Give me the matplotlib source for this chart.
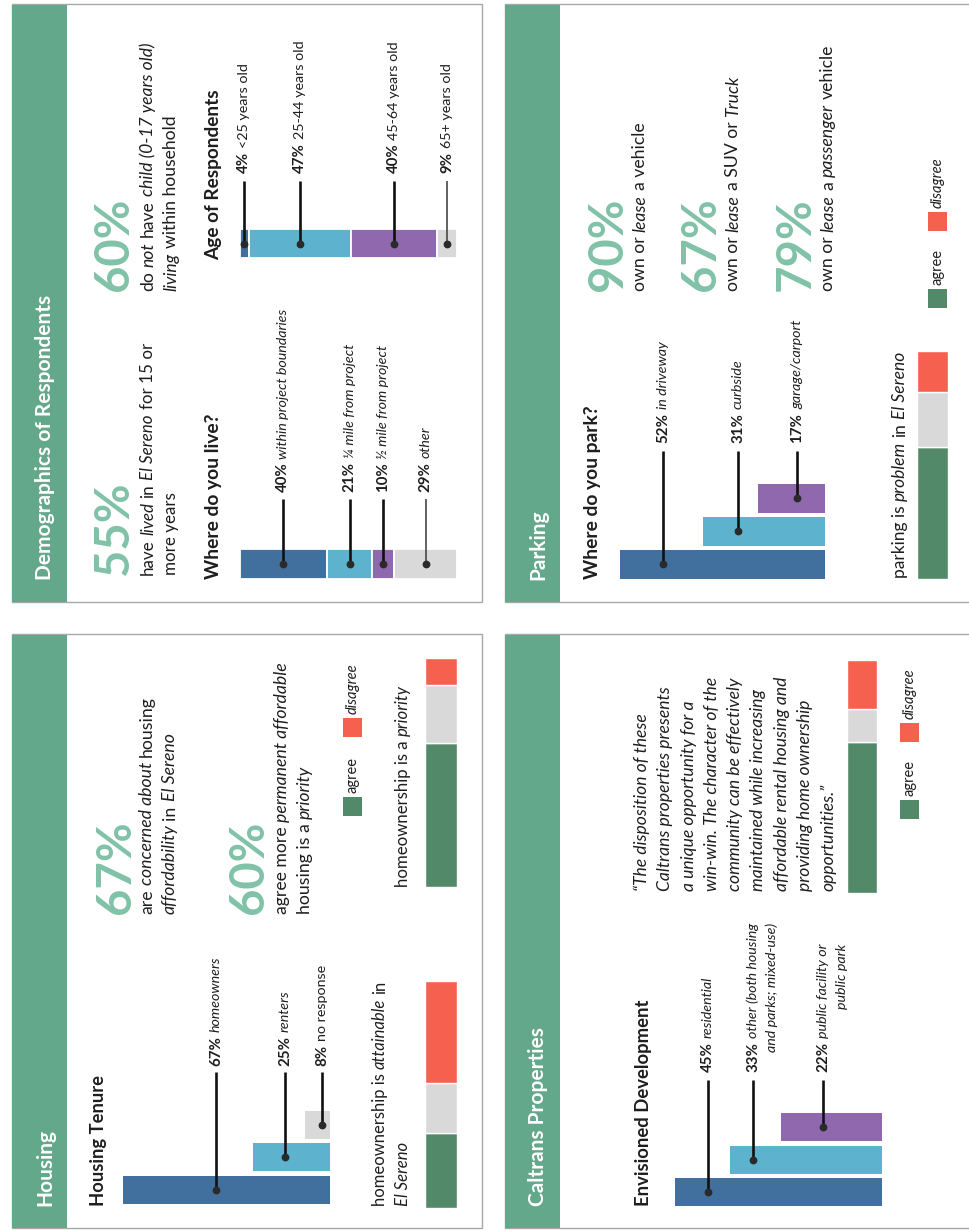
import matplotlib
matplotlib.use('Agg')
import matplotlib.pyplot as plt
from matplotlib.patches import Rectangle
import numpy as np

plt.rcParams['font.family'] = ['Lato', 'DejaVu Sans']

# ---------------- data ----------------
live_labels = ['within project boundaries', '\u00bc mile from project', '\u00bd mile from project', 'other']
live_values = [40, 21, 10, 29]
age_labels = ['<25 years old', '25-44 years old', '45-64 years old', '65+ years old']
age_values = [4, 47, 40, 9]
tenure_labels = ['homeowners', 'renters', 'no response']
tenure_values = [67, 25, 8]
park_labels = ['in driveway', 'curbside', 'garage/carport']
park_values = [52, 31, 17]
dev_labels = ['residential', 'other (both housing\nand parks; mixed-use)', 'public facility or\npublic park']
dev_values = [45, 33, 22]
likert_levels = ['agree', 'neutral', 'disagree']
attainable_values = [33, 22, 45]
priority_values = [63, 25, 12]
parking_problem_values = [58, 24, 18]
caltrans_values = [65, 14, 21]
demo_stats = [55, 60]
housing_stats = [67, 60]
vehicle_stats = [90, 67, 79]

# ---------------- style ----------------
W, H = 969, 1230
HDR = '#64a88c'
NUM = '#80c2a7'
DBLUE = '#41709e'
LBLUE = '#5db3cd'
PURPLE = '#8f68ad'
GRAY = '#d9d9d9'
AGREE = '#528a69'
DISAGREE = '#f5604f'
TXT = '#1e1e1e'
LIKERT_COLORS = [AGREE, GRAY, DISAGREE]

fig = plt.figure(figsize=(W / 100, H / 100), dpi=100)
bg = fig.add_axes([0, 0, 1, 1])
bg.set_xlim(0, W); bg.set_ylim(H, 0); bg.axis('off')
renderer = fig.canvas.get_renderer()


def fig_rect(x0, y0, x1, y1):
    return [x0 / W, 1 - y1 / H, (x1 - x0) / W, (y1 - y0) / H]


# panels
panels = [(12, 4, 482, 602, 'Demographics of Respondents'),
          (505, 4, 975, 602, 'Parking'),
          (12, 634, 482, 1228, 'Housing'),
          (505, 634, 975, 1228, 'Caltrans Properties')]
for x0, y0, x1, y1, _ in panels:
    bg.add_patch(Rectangle((x0, y0), x1 - x0, y1 - y0, fc='white', ec='#a8a8a8', lw=1.0))
    bg.add_patch(Rectangle((x0 + 0.5, y0 + 0.5), 55, y1 - y0 - 1, fc=HDR, ec='none'))


# ---------------- bar axes ----------------
def hbar_right(values, colors, right, length, vmax, bottom_center, spacing, thickness):
    n = len(values)
    yb = bottom_center + spacing / 2
    yt = yb - n * spacing
    a = fig.add_axes(fig_rect(right - length, yt, right, yb))
    a.barh(np.arange(n), values, height=thickness / spacing, color=colors)
    a.set_xlim(vmax, 0); a.set_ylim(-0.5, n - 0.5); a.axis('off')
    return a


def hstack(values, colors, x0, x1, y0, y1):
    a = fig.add_axes(fig_rect(x0, y0, x1, y1))
    left = np.concatenate([[0], np.cumsum(values)[:-1]])
    a.barh([0] * len(values), values, left=left, height=1.0, color=colors,
           edgecolor='white', linewidth=1.3)
    a.set_xlim(0, sum(values)); a.set_ylim(-0.5, 0.5); a.axis('off')
    return a


def vstack(values, x0, x1, y0, y1):
    a = fig.add_axes(fig_rect(x0, y0, x1, y1))
    bottom = np.concatenate([[0], np.cumsum(values)[:-1]])
    a.bar([0] * len(values), values, bottom=bottom, width=1.0, color=LIKERT_COLORS,
          edgecolor='white', linewidth=1.0)
    a.set_xlim(-0.5, 0.5); a.set_ylim(0, sum(values)); a.axis('off')
    return a


live_ax = hstack(live_values, [DBLUE, LBLUE, PURPLE, GRAY], 240, 457, 549, 579)
age_ax = hstack(age_values, [DBLUE, LBLUE, PURPLE, GRAY], 240, 457, 229, 258)
ten_ax = hbar_right(tenure_values, [DBLUE, LBLUE, GRAY], 330, 207, max(tenure_values), 1189.5, 32.5, 28)
park_ax = hbar_right(park_values, [DBLUE, LBLUE, PURPLE], 825, 205, max(park_values), 564, 33, 29)
dev_ax = hbar_right(dev_values, [DBLUE, LBLUE, PURPLE], 882, 207, max(dev_values), 1192, 32.5, 28)
vstack(parking_problem_values, 917, 948, 351, 579)
vstack(attainable_values, 425, 457, 981, 1208)
vstack(priority_values, 425, 457, 658, 887)
vstack(caltrans_values, 847, 877, 660, 893)

# overlay for text / leaders
ov = fig.add_axes([0, 0, 1, 1])
ov.set_xlim(0, W); ov.set_ylim(H, 0); ov.axis('off'); ov.patch.set_alpha(0)


def to_px(a, x, y):
    d = a.transData.transform((x, y))
    return d[0], H - d[1]


def kw_of(st):
    return dict(fontweight='bold' if 'b' in st else 'normal',
                fontstyle='italic' if 'i' in st else 'normal')


def measure(s, size, st):
    t = ov.text(0, 0, s, fontsize=size, **kw_of(st))
    w = t.get_window_extent(renderer).width
    t.remove()
    return w


def seg_parts(seg):
    return seg[0], seg[1], (seg[2] if len(seg) > 2 else 1.0)


def gap(size):
    return 0.26 * size * 100 / 72


def seq_length(segs, size):
    tot = 0
    for k, seg in enumerate(segs):
        s, st, rel = seg_parts(seg)
        if k:
            tot += gap(size * rel)
        tot += measure(s, size * rel, st)
    return tot


def draw_seq(xb, y0, segs, size, color=TXT, anchor='start'):
    if anchor == 'end':
        y0 = y0 + seq_length(segs, size)
    y = y0
    for k, seg in enumerate(segs):
        s, st, rel = seg_parts(seg)
        if k:
            y -= gap(size * rel)
        ov.text(xb, y, s, rotation=90, rotation_mode='anchor', ha='left', va='baseline',
                fontsize=size * rel, color=color, **kw_of(st))
        y -= measure(s, size * rel, st)
    return y


def para(xbs, y0, lines, size, target=None, color=TXT):
    if target:
        size = size * target / seq_length(lines[0], size)
    for xb, segs in zip(xbs, lines):
        draw_seq(xb, y0, segs, size, color)
    return size


def leader(x, y_top, y_bot, color='#111111', lw=1.9):
    ov.plot([x, x], [y_top, y_bot], color=color, lw=lw, solid_capstyle='butt', zorder=3)
    ov.plot([x], [y_bot], 'o', ms=4.6, color='#2a2a2a', zorder=4)


# headers
hsize = 14
hsize = hsize * 286 / seq_length([('Demographics of Respondents', 'b')], hsize)
for x0, y0, x1, y1, title in panels:
    draw_seq(x0 + 39, y1 - 22, [(title, 'b')], hsize, color='white')

BIG = 34
LAB = 10.8
DESC_REL = 0.95

# ---------------- Demographics ----------------
draw_seq(128, 575, [(f'{demo_stats[0]}%', 'b')], BIG, color=NUM)
para([153, 176], 575, [[('have', 'r'), ('lived', 'i'), ('in', 'r'), ('El Sereno', 'i'), ('for 15 or', 'r')],
                       [('more years', 'r')]], 12, target=231)
draw_seq(128, 291, [(f'{demo_stats[1]}%', 'b')], BIG, color=NUM)
para([153, 176], 291, [[('do', 'r'), ('not', 'i'), ('have', 'r'), ('child (0-17 years old)', 'i')],
                       [('living', 'i'), ('within household', 'r')]], 12, target=248)
para([219], 579, [[('Where do you live?', 'b')]], 13, target=166)
para([219], 260, [[('Age of Respondents', 'b')]], 13, target=171)

cum = np.concatenate([[0], np.cumsum(live_values)[:-1]])
for v, c, lab, col in zip(live_values, cum, live_labels, [DBLUE, LBLUE, PURPLE, GRAY]):
    x, yc = to_px(live_ax, c + v / 2, 0)
    if col == GRAY:
        leader(x, 499, yc, color='#555555', lw=1.3)
    else:
        leader(x, 499, yc)
    draw_seq(x + 4, 492, [(f'{v}%', 'b'), (lab, 'i', DESC_REL)], LAB)

cum = np.concatenate([[0], np.cumsum(age_values)[:-1]])
for v, c, lab, col in zip(age_values, cum, age_labels, [DBLUE, LBLUE, PURPLE, GRAY]):
    x, yc = to_px(age_ax, c + v / 2, 0)
    if col == GRAY:
        leader(x, 181, yc, color='#555555', lw=1.3)
    else:
        leader(x, 181, yc)
    draw_seq(x + 4, 173, [(f'{v}%', 'b'), (lab, 'r', DESC_REL)], LAB)

# ---------------- Parking ----------------
para([598], 579, [[('Where do you park?', 'b')]], 13, target=174)
for i, (v, lab, lx) in enumerate(zip(park_values, park_labels, [663, 738, 797])):
    _, yc = to_px(park_ax, 0, i)
    leader(lx, 451, yc)
    draw_seq(lx + 4, 443, [(f'{v}%', 'b'), (lab, 'i', DESC_REL)], LAB)

veh_text = [[('own or', 'r'), ('lease', 'i'), ('a vehicle', 'r')],
            [('own or', 'r'), ('lease', 'i'), ('a SUV or', 'r'), ('Truck', 'i')],
            [('own or', 'r'), ('lease', 'i'), ('a', 'r'), ('passenger', 'i'), ('vehicle', 'r')]]
bsize = 12
bsize = bsize * 246 / seq_length(veh_text[2], bsize)
for v, xb, segs in zip(vehicle_stats, [622, 715, 810], veh_text):
    draw_seq(xb, 291, [(f'{v}%', 'b')], BIG, color=NUM)
    draw_seq(xb + 23, 291, segs, bsize)

para([905], 578, [[('parking is', 'r'), ('problem', 'i'), ('in', 'r'), ('El Sereno', 'i')]], 12, target=225)


def legend(xsq, y_agree, y_dis):
    for yy, col, name in [(y_agree, AGREE, 'agree'), (y_dis, DISAGREE, 'disagree')]:
        ov.add_patch(Rectangle((xsq, yy), 19, 19, fc=col, ec='none'))
        draw_seq(xsq + 14, yy - 4, [(name, 'i' if name == 'disagree' else 'r')], 10.5)


legend(928, 289, 212)

# ---------------- Housing ----------------
para([104], 1206, [[('Housing Tenure', 'b')]], 13, target=130)
for i, (v, lab, lx) in enumerate(zip(tenure_values, tenure_labels, [216, 285, 322])):
    _, yc = to_px(ten_ax, 0, i)
    leader(lx, 1072, yc)
    draw_seq(lx + 4, 1066, [(f'{v}%', 'b'), (lab, 'i' if i < 2 else 'r', DESC_REL)], LAB)

draw_seq(130, 914, [(f'{housing_stats[0]}%', 'b')], BIG, color=NUM)
para([152, 175], 914, [[('are', 'r'), ('concerned about', 'i'), ('housing', 'r')],
                       [('affordability', 'i'), ('in', 'r'), ('El Sereno', 'i')]], 12, target=216)
draw_seq(263, 914, [(f'{housing_stats[1]}%', 'b')], BIG, color=NUM)
para([287, 310], 914, [[('agree more', 'r'), ('permanent affordable', 'i')],
                       [('housing is a', 'r'), ('priority', 'i')]], 12, target=252)
legend(343, 797, 718)
para([385, 408], 1206, [[('homeownership is', 'r'), ('attainable', 'i'), ('in', 'r')],
                        [('El Sereno', 'i')]], 12, target=225)
para([408], 887, [[('homeownership is a', 'r'), ('priority', 'i')]], 12, target=201)

# ---------------- Caltrans ----------------
para([649], 1206, [[('Envisioned Development', 'b')]], 13, target=207)
for i, (v, lab, lx) in enumerate(zip(dev_values, dev_labels, [708, 753, 823])):
    _, yc = to_px(dev_ax, 0, i)
    leader(lx, 1080, yc)
    lines = lab.split('\n')
    yend = draw_seq(lx + 4, 1072, [(f'{v}%', 'b'), (lines[0], 'i', DESC_REL)], LAB)
    for k, extra in enumerate(lines[1:]):
        draw_seq(lx + 4 + 19 * (k + 1), yend, [(extra, 'i', DESC_REL)], LAB, anchor='end')

quote = ['\u201cThe disposition of these',
         'Caltrans properties presents',
         'a unique opportunity for a',
         'win-win. The character of the',
         'community can be effectively',
         'maintained while increasing',
         'affordable rental housing and',
         'providing home ownership',
         'opportunities.\u201d']
qsize = 12
qsize = qsize * 203 / seq_length([(quote[1], 'i')], qsize)
for k, line in enumerate(quote):
    draw_seq(647 + 23.3 * k, 891, [(line, 'i')], qsize)
legend(900, 800, 723)

fig.savefig('out.png', dpi=100)
